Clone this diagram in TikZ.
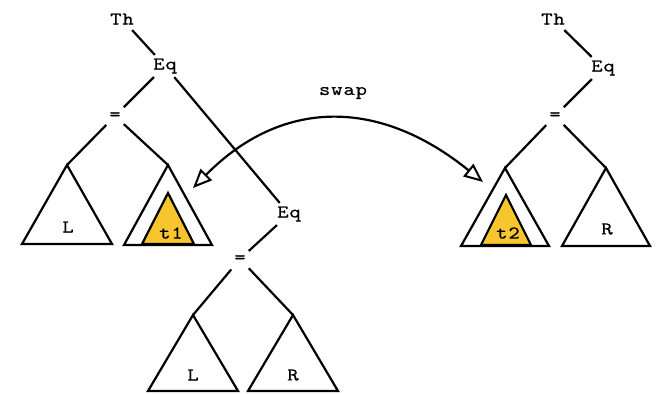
\documentclass[tikz,border=0pt]{standalone}
\usepackage{fontspec}
\newfontfamily\labfont{lmmono10-regular.otf}[FakeStretch=1.2,FakeBold=0.5,LetterSpace=5]
\usetikzlibrary{arrows.meta}
\definecolor{tyellow}{RGB}{247,198,46}
\begin{document}
\begin{tikzpicture}[x=1pt,y=-1pt,line width=2.2pt,
  lbl/.style={font=\labfont\fontsize{18}{18}\selectfont,
    inner sep=2pt, minimum height=20pt},
  tri/.style={draw, line join=miter, fill=white},
  intri/.style={draw, line join=miter, fill=tyellow},
  swaparrow/.style={{Triangle[open,length=19pt,width=16pt,line width=2pt]}-{Triangle[open,length=19pt,width=16pt,line width=2pt]}}
]
\useasboundingbox (0,0) rectangle (657,394);

% ---------- left tree ----------
\node[lbl] (th1) at (122,19) {Th};
\node[lbl] (eq1) at (165,66) {Eq};
\node[lbl] (eqs1) at (115,116) {=};
\coordinate (aL1) at (67,165);
\coordinate (aT1) at (168,165);
\draw[tri] (aL1) -- ++(-45,79) -- ++(90,0) -- cycle;
\draw[tri] (aT1) -- ++(-44,80) -- ++(88,0) -- cycle;
\coordinate (aI1) at (168,193);
\draw[intri] (aI1) -- ++(-26,51) -- ++(52,0) -- cycle;
\draw (aT1) ++(-44,80) -- ++(88,0);
\node[lbl] (lL1) at (68,227) {L};
\node[lbl] (lt1) at (171,233) {t1};

\node[lbl] (eq2) at (289,214) {Eq};
\node[lbl] (eqs2) at (240,259) {=};
\coordinate (aL2) at (193,315);
\coordinate (aR2) at (293,315);
\draw[tri] (aL2) -- ++(-45,76) -- ++(90,0) -- cycle;
\draw[tri] (aR2) -- ++(-45,76) -- ++(90,0) -- cycle;
\node[lbl] (lL2) at (193,375) {L};
\node[lbl] (lR2) at (293,375) {R};

\draw (th1) -- (eq1);
\draw (eq1) -- (eqs1);
\draw (eq1) -- (eq2);
\draw (eqs1) -- (aL1);
\draw (eqs1) -- (aT1);
\draw (eq2) -- (eqs2);
\draw (eqs2) -- (aL2);
\draw (eqs2) -- (aR2);

% ---------- right tree ----------
\node[lbl] (th3) at (553,19) {Th};
\node[lbl] (eq3) at (603,68) {Eq};
\node[lbl] (eqs3) at (555,116) {=};
\coordinate (aT3) at (505,168);
\coordinate (aR3) at (606,168);
\draw[tri] (aT3) -- ++(-44,78) -- ++(88,0) -- cycle;
\coordinate (aI3) at (506,195);
\draw[intri] (aI3) -- ++(-25,50) -- ++(50,0) -- cycle;
\draw (aT3) ++(-44,78) -- ++(88,0);
\draw[tri] (aR3) -- ++(-44,78) -- ++(88,0) -- cycle;
\node[lbl] (lt3) at (508,233) {t2};
\node[lbl] (lR3) at (607,229) {R};

\draw (th3) -- (eq3);
\draw (eq3) -- (eqs3);
\draw (eqs3) -- (aT3);
\draw (eqs3) -- (aR3);

% ---------- swap ----------
\coordinate (sw1) at (193,188);
\coordinate (sw2) at (483,182);
\draw[swaparrow] (sw1) .. controls (281,99) and (378,97) .. (sw2);
\node[lbl] (swap) at (343,93) {swap};
\end{tikzpicture}
\end{document}
